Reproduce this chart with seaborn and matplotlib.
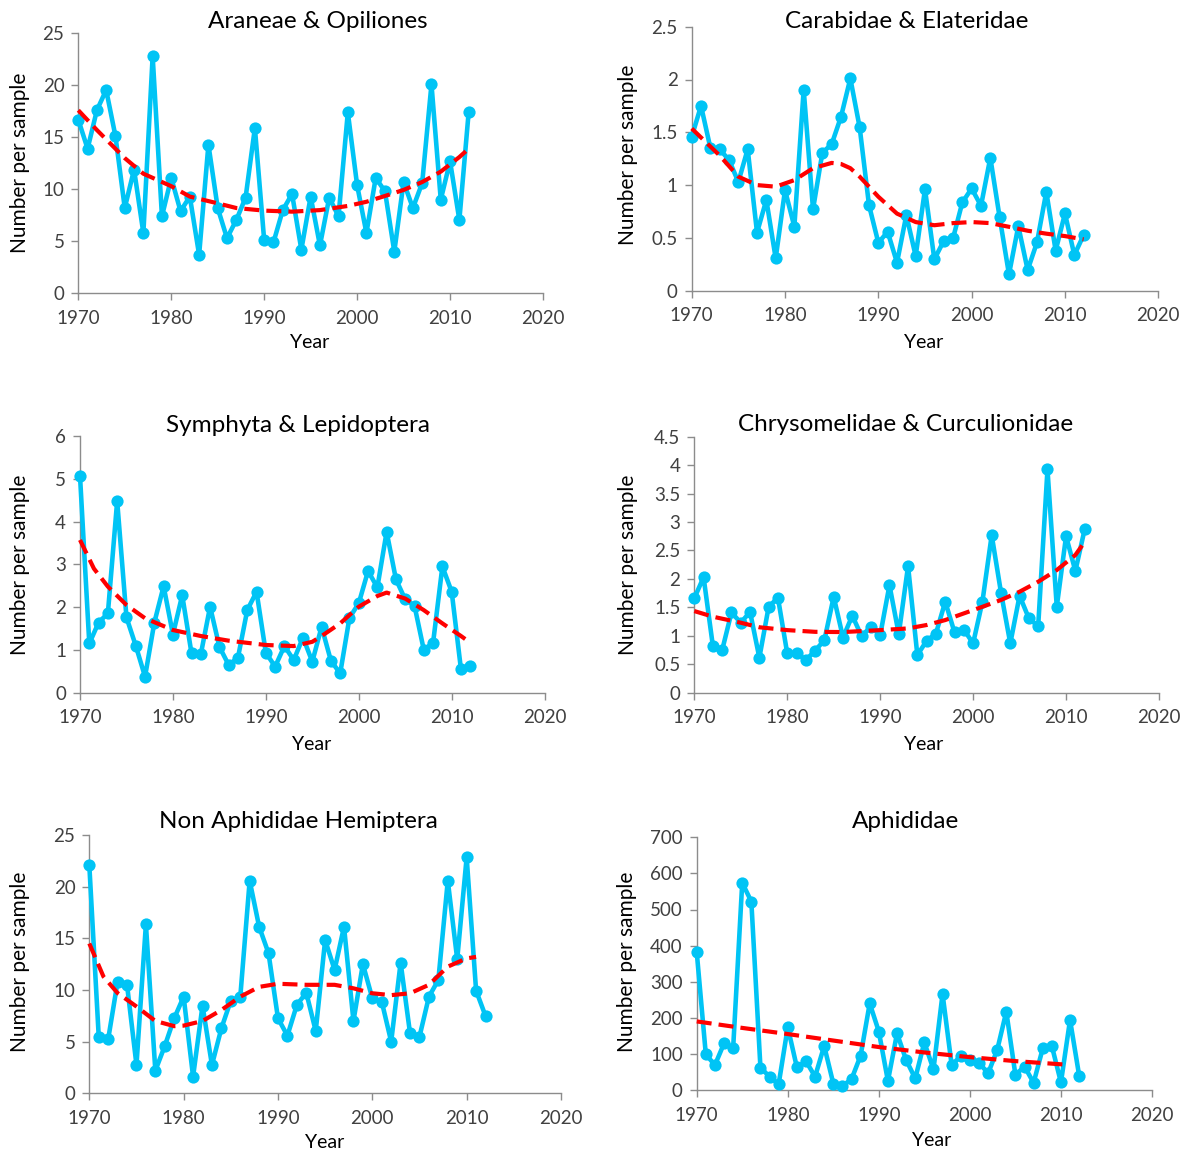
import matplotlib
matplotlib.use("Agg")
import matplotlib.pyplot as plt
import seaborn as sns
import pandas as pd
from matplotlib.ticker import FuncFormatter, MultipleLocator

# ---- data -------------------------------------------------------------
years = list(range(1970, 2013))

araneae = [16.7, 13.9, 17.6, 19.55, 15.1, 8.2, 11.9, 5.8, 22.8, 7.4,
           11.1, 7.9, 9.3, 3.7, 14.3, 8.2, 5.3, 7.05, 9.2, 15.9,
           5.1, 4.9, 8.0, 9.55, 4.2, 9.3, 4.6, 9.2, 7.4, 17.4,
           10.4, 5.8, 11.1, 9.8, 4.0, 10.7, 8.2, 10.6, 20.1, 9.0,
           12.7, 7.05, 17.4]
araneae_trend_years = [1970, 1972, 1975, 1977, 1980, 1982, 1985, 1987, 1990, 1993,
                       1996, 1999, 2001, 2003, 2005, 2007, 2009, 2011, 2012]
araneae_trend = [17.6, 15.7, 13.0, 11.5, 10.3, 9.3, 8.65, 8.2, 7.95, 7.85,
                 8.0, 8.4, 8.8, 9.36, 9.94, 10.7, 11.7, 13.1, 13.9]

carabidae = [1.457, 1.75, 1.353, 1.34, 1.237, 1.03, 1.34, 0.55, 0.86, 0.306,
             0.953, 0.606, 1.905, 0.77, 1.306, 1.388, 1.647, 2.01, 1.546, 0.81,
             0.454, 0.558, 0.265, 0.716, 0.328, 0.962, 0.297, 0.47, 0.495, 0.836,
             0.968, 0.804, 1.259, 0.694, 0.155, 0.612, 0.196, 0.457, 0.937, 0.379,
             0.732, 0.338, 0.527]
carabidae_trend_years = [1970, 1973, 1975, 1977, 1979, 1981, 1983, 1985, 1986, 1987,
                         1988, 1990, 1992, 1994, 1996, 1998, 2000, 2002, 2004, 2006,
                         2008, 2010, 2012]
carabidae_trend = [1.536, 1.28, 1.08, 1.0, 0.985, 1.047, 1.16, 1.21, 1.2, 1.16,
                   1.08, 0.89, 0.73, 0.65, 0.62, 0.64, 0.65, 0.64, 0.605, 0.568,
                   0.54, 0.517, 0.486]

symphyta = [5.07, 1.15, 1.64, 1.855, 4.48, 1.76, 1.1, 0.374, 1.64, 2.49,
            1.36, 2.28, 0.92, 0.896, 2.01, 1.075, 0.647, 0.82, 1.93, 2.36,
            0.935, 0.61, 1.09, 0.764, 1.29, 0.725, 1.54, 0.75, 0.45, 1.75,
            2.09, 2.845, 2.46, 3.76, 2.65, 2.18, 2.03, 1.0, 1.17, 2.95,
            2.36, 0.546, 0.624]
symphyta_trend_years = [1970, 1971.5, 1973, 1975, 1977, 1980, 1983, 1986, 1990, 1993,
                        1995, 1996, 1998, 2000, 2002, 2003, 2005, 2007, 2009, 2011,
                        2012]
symphyta_trend = [3.57, 2.9, 2.48, 2.05, 1.74, 1.465, 1.325, 1.216, 1.115, 1.09,
                  1.19, 1.325, 1.62, 2.01, 2.26, 2.34, 2.2, 1.93, 1.62, 1.325,
                  1.17]

chrysomelidae = [1.66, 2.03, 0.82, 0.75, 1.41, 1.23, 1.42, 0.615, 1.51, 1.67,
                 0.69, 0.70, 0.574, 0.738, 0.926, 1.687, 0.97, 1.353, 0.996, 1.16,
                 1.01, 1.89, 1.03, 2.226, 0.66, 0.914, 1.04, 1.6, 1.06, 1.11,
                 0.867, 1.6, 2.77, 1.76, 0.867, 1.705, 1.306, 1.17, 3.925, 1.51,
                 2.75, 2.14, 2.87]
chrysomelidae_trend_years = [1970, 1972, 1975, 1977, 1980, 1983, 1986, 1990, 1993, 1995,
                             1997, 1999, 2001, 2003, 2005, 2007, 2009, 2011, 2012]
chrysomelidae_trend = [1.435, 1.336, 1.23, 1.15, 1.10, 1.07, 1.066, 1.10, 1.13, 1.19,
                       1.277, 1.394, 1.51, 1.63, 1.775, 1.95, 2.156, 2.42, 2.65]

hemiptera = [22.1, 5.48, 5.23, 10.8, 10.5, 2.74, 16.35, 2.19, 4.58, 7.26,
             9.35, 1.61, 8.48, 2.74, 6.29, 8.97, 9.29, 20.58, 16.13, 13.55,
             7.26, 5.58, 8.55, 9.74, 6.03, 14.84, 11.94, 16.13, 7.0, 12.5,
             9.19, 8.87, 5.0, 12.65, 5.8, 5.48, 9.35, 10.97, 20.58, 12.97,
             22.84, 9.94, 7.48]
hemiptera_trend_years = [1970, 1971.5, 1973, 1975, 1977, 1979, 1980, 1982, 1984, 1986,
                         1988, 1990, 1993, 1996, 1998, 2000, 2002, 2004, 2006, 2008,
                         2010, 2011]
hemiptera_trend = [14.5, 11.3, 9.7, 8.4, 7.0, 6.5, 6.55, 7.0, 8.06, 9.35,
                   10.3, 10.6, 10.5, 10.5, 10.16, 9.68, 9.5, 9.68, 10.5, 12.26,
                   13.06, 13.2]

aphididae = [383, 99, 69, 129, 115, 574, 522, 62, 37, 16,
             174, 63, 80, 37, 122, 18, 11, 30, 95, 240,
             162, 25, 157, 83, 32, 132, 57, 266, 69, 94,
             83, 76, 46, 111, 217, 42, 65, 20, 115, 122,
             21, 194, 40]
aphididae_trend_years = [1970, 1975, 1980, 1985, 1990, 1995, 2000, 2005, 2010.7]
aphididae_trend = [190, 172, 155, 137, 119, 104, 91, 80, 70]

panels = [
    dict(title="Araneae & Opiliones", y=araneae, ty=araneae_trend_years, tv=araneae_trend,
         ymax=25, step=5),
    dict(title="Carabidae & Elateridae", y=carabidae, ty=carabidae_trend_years, tv=carabidae_trend,
         ymax=2.5, step=0.5),
    dict(title="Symphyta & Lepidoptera", y=symphyta, ty=symphyta_trend_years, tv=symphyta_trend,
         ymax=6, step=1),
    dict(title="Chrysomelidae & Curculionidae", y=chrysomelidae, ty=chrysomelidae_trend_years,
         tv=chrysomelidae_trend, ymax=4.5, step=0.5),
    dict(title="Non Aphididae Hemiptera", y=hemiptera, ty=hemiptera_trend_years, tv=hemiptera_trend,
         ymax=25, step=5),
    dict(title="Aphididae", y=aphididae, ty=aphididae_trend_years, tv=aphididae_trend,
         ymax=700, step=100),
]

# ---- layout (pixel boxes of each plot area: x of 1970, x of 2020, y of top, y of 0) ----
W, H = 1198, 1151
boxes = [
    (78.3, 543.0, 33.3, 293.3),
    (691.7, 1158.3, 26.7, 290.7),
    (80.0, 544.6, 436.0, 692.7),
    (694.3, 1159.0, 436.7, 692.7),
    (89.3, 561.0, 835.0, 1093.3),
    (696.7, 1152.0, 837.3, 1090.0),
]
title_pos = [(318, 22), (907, 22), (298, 425), (906, 424), (298, 822), (906, 821)]
ylabel_pos = [(20, 163), (628, 155), (20, 565), (628, 565), (20, 962), (627, 962)]
xlabel_pos = [(310, 343), (924, 343), (312, 745), (924, 745), (325, 1142), (932, 1141)]

sns.set_theme(style="ticks")
plt.rcParams["font.family"] = ["Lato", "DejaVu Sans"]

BLUE = "#00C4F5"
RED = "#FF0000"
SPINE = "#8C8C8C"
TICKTEXT = "#404040"

fig = plt.figure(figsize=(W / 100, H / 100), dpi=100)
fig.patch.set_facecolor("white")


def fmt(v, _pos):
    return f"{v:g}"


for p, (x0, x1, yt, yb), tp, yp, xp in zip(panels, boxes, title_pos, ylabel_pos, xlabel_pos):
    ax = fig.add_axes([x0 / W, 1 - yb / H, (x1 - x0) / W, (yb - yt) / H])
    ax.set_facecolor("white")

    df = pd.DataFrame({"Year": years, "Value": p["y"]})
    tdf = pd.DataFrame({"Year": p["ty"], "Value": p["tv"]})

    sns.lineplot(data=df, x="Year", y="Value", ax=ax, color=BLUE, linewidth=3.3,
                 marker="o", markersize=8.8, markeredgewidth=0, clip_on=False, zorder=3)
    sns.lineplot(data=tdf, x="Year", y="Value", ax=ax, color=RED, linewidth=3.0,
                 zorder=4, clip_on=False)
    ax.lines[-1].set_dashes([3.6, 1.7])

    ax.set_xlim(1970, 2020)
    ax.set_ylim(0, p["ymax"])
    ax.xaxis.set_major_locator(MultipleLocator(10))
    ax.yaxis.set_major_locator(MultipleLocator(p["step"]))
    ax.yaxis.set_major_formatter(FuncFormatter(fmt))

    for side in ("top", "right"):
        ax.spines[side].set_visible(False)
    for side in ("left", "bottom"):
        ax.spines[side].set_color(SPINE)
        ax.spines[side].set_linewidth(1.0)
    ax.tick_params(axis="both", direction="out", length=5, width=1.0, color=SPINE,
                   labelsize=13.5, labelcolor=TICKTEXT)
    ax.tick_params(axis="x", pad=7)
    ax.tick_params(axis="y", pad=5)

    ax.set_xlabel("")
    ax.set_ylabel("")
    fig.text(tp[0] / W, 1 - tp[1] / H, p["title"], ha="center", va="center",
             fontsize=17.5, color="#000000")
    fig.text(yp[0] / W, 1 - yp[1] / H, "Number per sample", ha="center", va="center",
             rotation=90, fontsize=15, color="#000000")
    fig.text(xp[0] / W, 1 - xp[1] / H, "Year", ha="center", va="center",
             fontsize=14, color="#000000")

fig.savefig("out.png", dpi=100, facecolor="white")
